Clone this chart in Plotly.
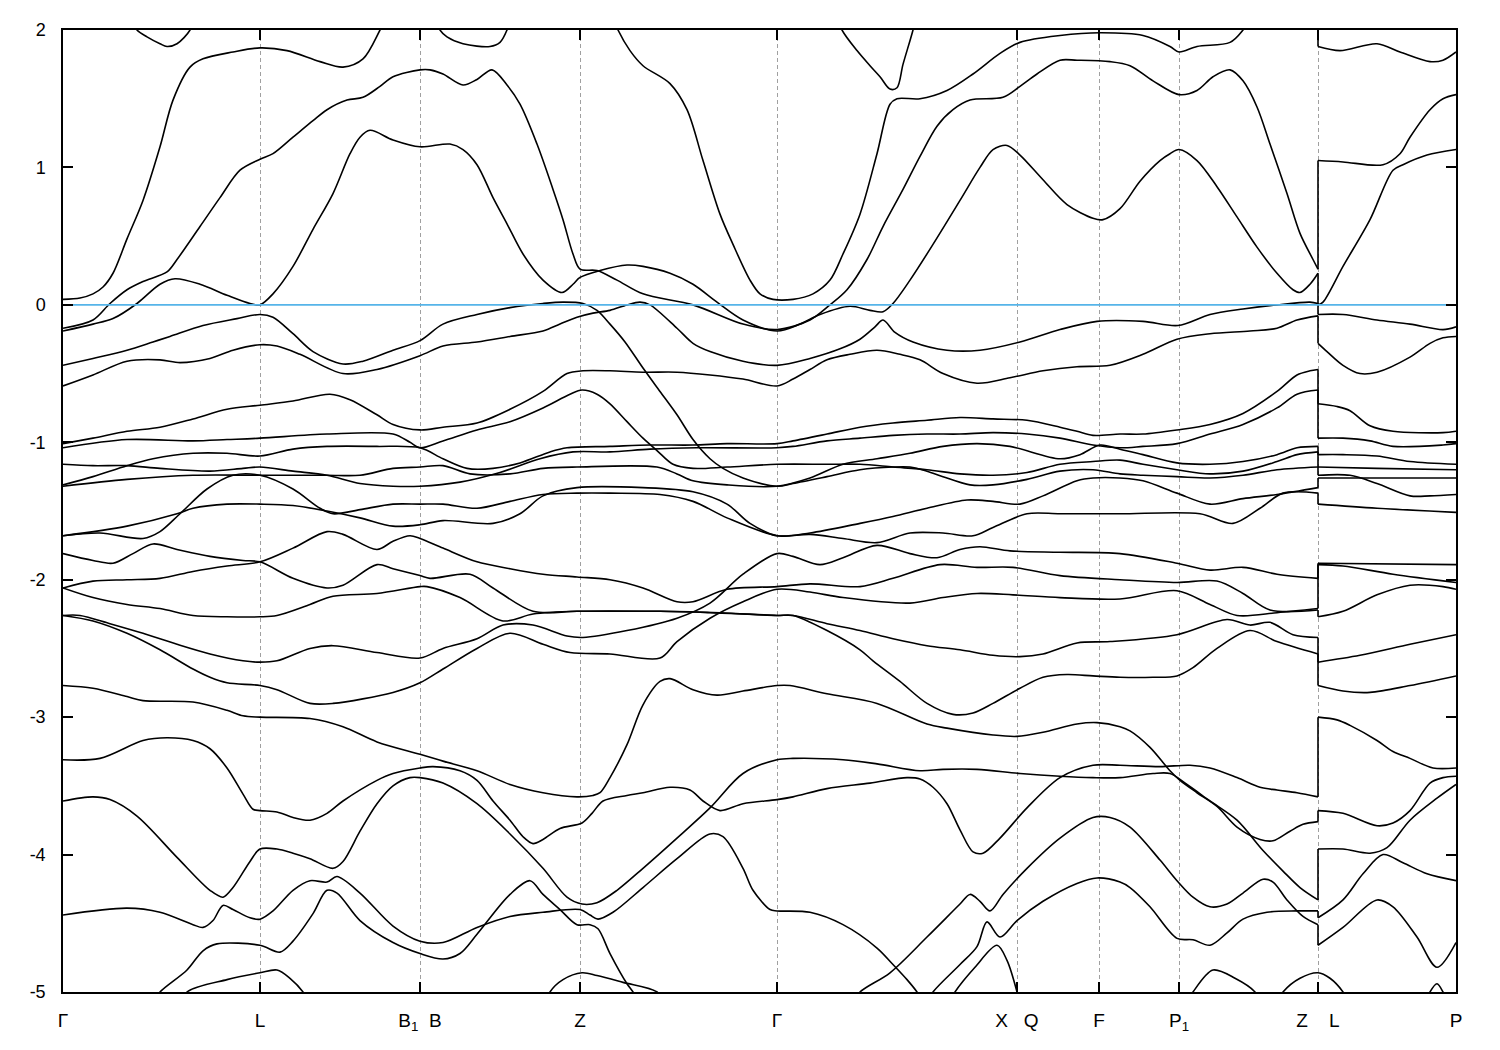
import plotly.graph_objects as go

# High-symmetry points along the k-path (path coordinate) and their labels
K_TICKS = [0, 197, 357, 517, 714, 954, 1036, 1116, 1255, 1393]
K_LABELS = ["Γ", "L", "B<sub>1</sub>\u00a0\u00a0B", "Z", "Γ", "X\u00a0\u00a0\u00a0Q", "F",
            "P<sub>1</sub>", "Z\u00a0\u00a0\u00a0\u00a0L", "P"]
E_TICKS = [2, 1, 0, -1, -2, -3, -4, -5]
E_LABELS = ["2", "1", "0", "-1", "-2", "-3", "-4", "-5"]
K_MAX = 1393
E_MIN, E_MAX = -5, 2
FERMI = 0.0

# Bands: (k, E) pairs; a repeated k marks the Z|L discontinuity
BAND_A = [(68, 2.1), (74, 2.0), (84, 1.95), (97, 1.9), (104, 1.88), (114, 1.9), (127, 2.0), (131, 2.1)]
BAND_A2 = [(372, 2.1), (377, 2.0), (384, 1.95), (400, 1.9), (427, 1.88), (437, 1.91), (444, 2.0), (448, 2.1)]
BAND_V = [(774, 2.1), (779, 2.0), (794, 1.85), (807, 1.74), (817, 1.66), (827, 1.57), (834, 1.58),
          (840, 1.75), (850, 2.0), (853, 2.1)]
BAND_B = [(0, 0.04), (17, 0.05), (30, 0.08), (40, 0.13), (50, 0.23), (64, 0.48), (80, 0.76), (97, 1.15),
          (110, 1.49), (127, 1.73), (140, 1.79), (170, 1.84), (197, 1.87), (224, 1.85), (257, 1.77),
          (280, 1.73), (300, 1.79), (317, 2.0), (327, 2.15)]
BAND_G = [(547, 2.15), (555, 2.0), (567, 1.85), (580, 1.74), (607, 1.61), (624, 1.42), (640, 1.05),
          (657, 0.66), (670, 0.44), (687, 0.18), (697, 0.08), (710, 0.04), (730, 0.04), (750, 0.08),
          (767, 0.18), (780, 0.37), (797, 0.66), (814, 1.1), (827, 1.46), (834, 1.5), (857, 1.5),
          (884, 1.56), (910, 1.68), (937, 1.83), (957, 1.91), (997, 1.96), (1037, 1.98), (1080, 1.96),
          (1107, 1.88), (1116, 1.84), (1134, 1.88), (1167, 1.91), (1180, 2.0), (1197, 2.2), (1255, 2.3),
          (1255, 1.88), (1277, 1.85), (1314, 1.9), (1337, 1.84), (1367, 1.77), (1380, 1.78), (1393, 1.84)]
BAND_C = [(0, -0.17), (30, -0.11), (47, 0.01), (64, 0.11), (80, 0.17), (104, 0.24), (114, 0.33),
          (137, 0.57), (157, 0.78), (177, 0.98), (197, 1.06), (210, 1.1), (230, 1.22), (250, 1.34),
          (264, 1.42), (284, 1.49), (300, 1.51), (317, 1.59), (330, 1.66), (357, 1.71), (367, 1.71),
          (380, 1.68), (400, 1.6), (414, 1.64), (429, 1.71), (444, 1.6), (457, 1.46), (474, 1.17),
          (490, 0.84), (500, 0.62), (510, 0.37), (517, 0.26), (534, 0.25), (554, 0.18), (580, 0.08),
          (630, 0.0), (680, -0.14), (714, -0.18), (747, -0.11), (767, 0.0), (784, 0.11), (804, 0.33),
          (820, 0.57), (840, 0.84), (857, 1.08), (874, 1.3), (890, 1.42), (907, 1.49), (940, 1.51),
          (957, 1.59), (974, 1.68), (997, 1.78), (1014, 1.78), (1047, 1.77), (1067, 1.74), (1090, 1.63),
          (1116, 1.53), (1134, 1.56), (1150, 1.66), (1167, 1.71), (1180, 1.63), (1194, 1.44),
          (1207, 1.17), (1224, 0.81), (1237, 0.52), (1250, 0.33), (1255, 0.26),
          (1255, 1.05), (1280, 1.04), (1320, 1.02), (1337, 1.1), (1347, 1.22), (1367, 1.42),
          (1380, 1.5), (1393, 1.53)]
BAND_D = [(0, -0.19), (30, -0.14), (50, -0.1), (74, 0.01), (97, 0.15), (112, 0.19), (137, 0.15),
          (164, 0.07), (187, 0.01), (197, 0.0), (210, 0.08), (230, 0.28), (250, 0.55), (270, 0.81),
          (287, 1.1), (297, 1.22), (307, 1.27), (330, 1.2), (357, 1.15), (387, 1.17), (400, 1.13),
          (414, 1.02), (430, 0.78), (444, 0.59), (460, 0.37), (480, 0.18), (499, 0.09), (510, 0.15),
          (517, 0.2), (537, 0.25), (564, 0.29), (580, 0.28), (607, 0.23), (630, 0.15), (654, 0.02),
          (680, -0.11), (714, -0.19), (737, -0.14), (757, -0.07), (787, -0.01), (807, -0.04),
          (820, -0.05), (830, 0.01), (847, 0.18), (870, 0.44), (897, 0.76), (917, 1.0), (930, 1.13),
          (944, 1.16), (957, 1.09), (980, 0.91), (1004, 0.73), (1030, 0.63), (1040, 0.62), (1057, 0.7),
          (1077, 0.9), (1097, 1.05), (1107, 1.1), (1116, 1.13), (1134, 1.05), (1154, 0.86),
          (1174, 0.64), (1194, 0.42), (1214, 0.23), (1230, 0.11), (1237, 0.09), (1247, 0.15),
          (1255, 0.23),
          (1255, 0.0), (1260, 0.02), (1280, 0.28), (1307, 0.62), (1330, 0.98), (1340, 1.02),
          (1364, 1.09), (1393, 1.13)]
BAND_M1 = [(0, -0.44), (30, -0.39), (64, -0.33), (90, -0.27), (107, -0.23), (140, -0.15), (174, -0.1),
           (197, -0.07), (210, -0.09), (230, -0.21), (250, -0.34), (280, -0.43), (300, -0.41),
           (330, -0.33), (357, -0.26), (380, -0.14), (414, -0.07), (447, -0.02), (480, 0.01), (500, 0.02),
           (520, 0.01), (534, -0.04), (547, -0.14), (562, -0.27), (580, -0.46), (597, -0.63), (614, -0.8),
           (630, -0.98), (647, -1.12), (660, -1.19), (680, -1.26), (714, -1.32), (730, -1.3),
           (764, -1.25), (797, -1.2), (830, -1.18), (847, -1.18), (864, -1.21), (880, -1.25),
           (907, -1.31), (930, -1.31), (964, -1.27), (997, -1.21), (1030, -1.2), (1057, -1.23),
           (1080, -1.24), (1114, -1.25), (1147, -1.26), (1180, -1.24), (1214, -1.2), (1255, -1.18),
           (1255, -1.24), (1287, -1.24), (1314, -1.3), (1347, -1.39), (1367, -1.39), (1393, -1.38)]
BAND_M2 = [(0, -0.59), (30, -0.51), (64, -0.41), (97, -0.4), (117, -0.42), (147, -0.39), (170, -0.33),
           (197, -0.29), (214, -0.3), (237, -0.36), (280, -0.5), (314, -0.47), (357, -0.37), (380, -0.3),
           (414, -0.27), (447, -0.23), (480, -0.19), (497, -0.14), (514, -0.09), (530, -0.06),
           (547, -0.04), (564, 0.0), (577, 0.02), (587, 0.0), (614, -0.17), (630, -0.28), (647, -0.34),
           (680, -0.41), (714, -0.44), (747, -0.39), (777, -0.32), (797, -0.25), (812, -0.16),
           (820, -0.11), (832, -0.2), (850, -0.27), (884, -0.33), (917, -0.33), (957, -0.27),
           (997, -0.18), (1034, -0.12), (1080, -0.12), (1115, -0.15), (1147, -0.07), (1180, -0.03),
           (1214, 0.0), (1247, 0.02), (1255, 0.01),
           (1255, -0.07), (1280, -0.07), (1314, -0.11), (1347, -0.14), (1380, -0.18), (1393, -0.16)]
BAND_M3 = [(0, -1.01), (30, -0.97), (64, -0.92), (97, -0.89), (130, -0.83), (164, -0.76), (197, -0.73),
           (230, -0.7), (267, -0.65), (287, -0.69), (314, -0.8), (330, -0.87), (357, -0.91), (380, -0.89),
           (414, -0.86), (447, -0.76), (480, -0.63), (504, -0.5), (520, -0.48), (547, -0.48),
           (580, -0.49), (614, -0.49), (647, -0.51), (680, -0.54), (714, -0.59), (730, -0.54),
           (747, -0.47), (764, -0.4), (787, -0.36), (814, -0.33), (837, -0.36), (857, -0.4), (880, -0.5),
           (914, -0.57), (947, -0.53), (980, -0.48), (1014, -0.45), (1047, -0.44), (1080, -0.36),
           (1114, -0.25), (1147, -0.21), (1187, -0.19), (1214, -0.17), (1234, -0.11), (1255, -0.08),
           (1255, -0.28), (1264, -0.34), (1280, -0.44), (1297, -0.5), (1314, -0.49), (1347, -0.38),
           (1367, -0.28), (1380, -0.24), (1393, -0.23)]
BAND_N1 = [(0, -1.04), (64, -0.98), (130, -0.99), (164, -0.98), (197, -0.97), (264, -0.94), (330, -0.94),
           (347, -1.0), (357, -1.04), (380, -0.99), (414, -0.91), (447, -0.85), (480, -0.75), (507, -0.65),
           (519, -0.62), (534, -0.65), (547, -0.72), (564, -0.85), (580, -0.97), (594, -1.06),
           (610, -1.16), (630, -1.19), (664, -1.18), (714, -1.16), (764, -1.16), (797, -1.16),
           (830, -1.18), (864, -1.2), (897, -1.23), (930, -1.24), (964, -1.22), (997, -1.16),
           (1030, -1.14), (1057, -1.13), (1080, -1.16), (1114, -1.2), (1147, -1.23), (1180, -1.21),
           (1214, -1.14), (1234, -1.09), (1255, -1.07),
           (1255, -1.18), (1314, -1.19), (1393, -1.2)]
BAND_N2 = [(0, -1.16), (30, -1.17), (64, -1.17), (97, -1.19), (147, -1.21), (180, -1.19), (197, -1.18),
           (230, -1.21), (264, -1.24), (297, -1.3), (330, -1.32), (357, -1.32), (397, -1.29), (437, -1.22),
           (477, -1.12), (510, -1.07), (547, -1.07), (587, -1.05), (634, -1.04), (714, -1.04),
           (730, -1.03), (764, -0.99), (797, -0.97), (830, -0.95), (864, -0.94), (897, -0.94),
           (930, -0.93), (964, -0.94), (997, -0.97), (1030, -1.02), (1057, -1.04), (1080, -1.03),
           (1114, -1.01), (1147, -0.94), (1180, -0.87), (1214, -0.75), (1234, -0.65), (1255, -0.62),
           (1255, -0.97), (1280, -0.97), (1307, -0.99), (1330, -1.03), (1380, -1.02), (1393, -1.01)]
BAND_N3 = [(0, -1.31), (30, -1.25), (64, -1.17), (90, -1.12), (130, -1.08), (164, -1.08), (197, -1.1),
           (230, -1.05), (264, -1.03), (314, -1.03), (357, -1.04), (380, -1.12), (404, -1.19),
           (430, -1.19), (457, -1.15), (487, -1.07), (504, -1.04), (547, -1.03), (587, -1.02),
           (630, -1.02), (664, -1.01), (714, -1.01), (730, -0.99), (764, -0.94), (797, -0.89),
           (830, -0.86), (864, -0.84), (897, -0.82), (930, -0.83), (964, -0.84), (997, -0.89),
           (1014, -0.92), (1030, -0.95), (1057, -0.94), (1080, -0.94), (1114, -0.91), (1147, -0.87),
           (1180, -0.79), (1214, -0.63), (1234, -0.51), (1247, -0.48), (1255, -0.47),
           (1255, -0.72), (1274, -0.74), (1287, -0.77), (1307, -0.88), (1330, -0.92), (1380, -0.93),
           (1393, -0.92)]
BAND_N4 = [(0, -1.32), (64, -1.27), (130, -1.24), (197, -1.24), (264, -1.24), (297, -1.24), (330, -1.19),
           (357, -1.18), (380, -1.17), (407, -1.23), (447, -1.23), (480, -1.19), (514, -1.18),
           (594, -1.18), (614, -1.23), (630, -1.28), (664, -1.31), (714, -1.32), (747, -1.26),
           (780, -1.16), (814, -1.12), (847, -1.08), (880, -1.03), (914, -1.01), (947, -1.03),
           (997, -1.12), (1017, -1.09), (1037, -1.02), (1057, -1.05), (1080, -1.09), (1114, -1.15),
           (1147, -1.16), (1180, -1.14), (1214, -1.09), (1234, -1.04), (1255, -1.03),
           (1255, -1.09), (1280, -1.09), (1314, -1.1), (1347, -1.14), (1393, -1.16)]
BAND_N5 = [(0, -1.68), (37, -1.66), (80, -1.7), (97, -1.65), (117, -1.52), (144, -1.34), (170, -1.24),
           (197, -1.24), (230, -1.34), (257, -1.48), (270, -1.52), (297, -1.49), (330, -1.45),
           (357, -1.45), (380, -1.45), (414, -1.48), (447, -1.43), (480, -1.38), (514, -1.37),
           (547, -1.37), (597, -1.38), (630, -1.43), (664, -1.55), (714, -1.68), (747, -1.67),
           (780, -1.7), (814, -1.73), (847, -1.66), (880, -1.66), (910, -1.68), (930, -1.62),
           (964, -1.52), (997, -1.52), (1057, -1.52), (1137, -1.52), (1170, -1.59), (1197, -1.48),
           (1220, -1.37), (1255, -1.37),
           (1255, -1.45), (1314, -1.48), (1393, -1.51)]
BAND_N6 = [(0, -1.68), (64, -1.61), (114, -1.52), (130, -1.48), (164, -1.45), (197, -1.45), (230, -1.46),
           (264, -1.5), (297, -1.55), (330, -1.61), (357, -1.6), (380, -1.57), (430, -1.59), (457, -1.52),
           (480, -1.39), (514, -1.33), (580, -1.33), (630, -1.36), (664, -1.45), (687, -1.59),
           (714, -1.68), (747, -1.66), (797, -1.59), (830, -1.54), (864, -1.48), (904, -1.42),
           (930, -1.43), (957, -1.45), (980, -1.39), (1014, -1.28), (1030, -1.26), (1057, -1.26),
           (1080, -1.28), (1114, -1.37), (1147, -1.45), (1180, -1.41), (1214, -1.38), (1255, -1.33),
           (1255, -1.26), (1393, -1.26)]
BAND_N7 = [(0, -1.81), (30, -1.86), (50, -1.88), (70, -1.81), (90, -1.74), (114, -1.78), (147, -1.83),
           (180, -1.86), (197, -1.87), (230, -1.99), (264, -2.06), (280, -2.04), (314, -1.89),
           (330, -1.92), (357, -1.97), (367, -1.99), (407, -1.96), (430, -2.06), (470, -2.23),
           (514, -2.23), (597, -2.23), (647, -2.24), (714, -2.26), (730, -2.26), (764, -2.32),
           (797, -2.37), (830, -2.43), (864, -2.48), (897, -2.51), (930, -2.55), (957, -2.56),
           (980, -2.54), (1014, -2.46), (1047, -2.45), (1114, -2.4), (1164, -2.29), (1187, -2.33),
           (1207, -2.31), (1230, -2.4), (1255, -2.42),
           (1255, -2.6), (1297, -2.55), (1347, -2.47), (1393, -2.4)]
BAND_N8 = [(0, -2.06), (30, -2.01), (64, -2.0), (97, -1.99), (130, -1.94), (164, -1.9), (197, -1.87),
           (230, -1.77), (264, -1.65), (280, -1.67), (314, -1.78), (330, -1.72), (347, -1.68),
           (357, -1.7), (380, -1.77), (414, -1.87), (447, -1.92), (480, -1.96), (514, -1.98),
           (547, -2.0), (580, -2.06), (614, -2.16), (630, -2.16), (664, -2.07), (714, -2.05),
           (747, -2.03), (797, -2.05), (830, -1.99), (877, -1.89), (914, -1.91), (950, -1.91),
           (997, -1.97), (1057, -2.0), (1114, -2.02), (1154, -2.01), (1180, -2.1), (1207, -2.22),
           (1255, -2.22),
           (1255, -2.27), (1280, -2.23), (1314, -2.11), (1347, -2.04), (1380, -2.05), (1393, -2.07)]
BAND_N9 = [(0, -2.06), (30, -2.13), (64, -2.18), (97, -2.21), (130, -2.26), (164, -2.27), (197, -2.27),
           (214, -2.26), (247, -2.18), (270, -2.12), (314, -2.1), (357, -2.05), (364, -2.05),
           (397, -2.13), (440, -2.3), (470, -2.25), (514, -2.23), (597, -2.23), (657, -2.24),
           (714, -2.26), (730, -2.26), (764, -2.37), (797, -2.51), (810, -2.59), (837, -2.74),
           (864, -2.9), (890, -2.98), (910, -2.97), (930, -2.9), (957, -2.79), (980, -2.71),
           (1004, -2.69), (1030, -2.7), (1057, -2.71), (1090, -2.71), (1114, -2.7), (1130, -2.64),
           (1154, -2.5), (1187, -2.37), (1214, -2.45), (1255, -2.54),
           (1255, -2.77), (1280, -2.81), (1307, -2.82), (1347, -2.77), (1393, -2.7)]
BAND_N10 = [(0, -2.26), (17, -2.26), (47, -2.32), (80, -2.39), (114, -2.47), (147, -2.54), (180, -2.59),
            (197, -2.6), (214, -2.59), (247, -2.5), (270, -2.48), (314, -2.53), (357, -2.57),
            (380, -2.5), (414, -2.43), (440, -2.33), (470, -2.33), (504, -2.41), (520, -2.42),
            (564, -2.37), (614, -2.28), (647, -2.17), (680, -1.96), (714, -1.81), (730, -1.83),
            (757, -1.89), (780, -1.84), (814, -1.75), (847, -1.81), (874, -1.84), (897, -1.78),
            (917, -1.76), (947, -1.79), (997, -1.8), (1057, -1.81), (1114, -1.88), (1147, -1.93),
            (1180, -1.91), (1214, -1.96), (1255, -1.99),
            (1255, -1.88), (1393, -1.89)]
BAND_N11 = [(0, -2.26), (30, -2.3), (64, -2.39), (97, -2.51), (130, -2.65), (147, -2.71), (164, -2.75),
            (197, -2.77), (214, -2.8), (247, -2.9), (270, -2.9), (330, -2.82), (357, -2.75),
            (380, -2.65), (414, -2.5), (447, -2.39), (480, -2.47), (507, -2.53), (547, -2.54),
            (597, -2.57), (614, -2.45), (647, -2.28), (680, -2.16), (714, -2.07), (747, -2.09),
            (780, -2.13), (847, -2.17), (880, -2.13), (914, -2.1), (950, -2.11), (997, -2.13),
            (1057, -2.14), (1114, -2.08), (1147, -2.18), (1174, -2.26), (1214, -2.24), (1255, -2.21),
            (1255, -1.89), (1280, -1.9), (1330, -1.96), (1393, -2.02)]
BAND_N12 = [(0, -2.77), (30, -2.79), (64, -2.85), (80, -2.88), (130, -2.89), (164, -2.95), (180, -2.99),
            (197, -3.0), (247, -3.01), (280, -3.07), (314, -3.18), (357, -3.27), (380, -3.32),
            (414, -3.39), (447, -3.49), (480, -3.55), (514, -3.58), (530, -3.57), (537, -3.55),
            (547, -3.44), (564, -3.2), (580, -2.91), (597, -2.74), (607, -2.72), (630, -2.8),
            (654, -2.84), (680, -2.81), (714, -2.77), (727, -2.77), (764, -2.83), (814, -2.9),
            (864, -3.05), (884, -3.08), (930, -3.13), (954, -3.14), (980, -3.11), (1014, -3.05),
            (1034, -3.04), (1057, -3.07), (1067, -3.1), (1087, -3.22), (1107, -3.39), (1117, -3.46),
            (1134, -3.55), (1154, -3.65), (1174, -3.8), (1197, -3.89), (1210, -3.9), (1227, -3.83),
            (1240, -3.78), (1255, -3.76),
            (1255, -3.68), (1280, -3.7), (1314, -3.79), (1330, -3.77), (1347, -3.68), (1367, -3.48),
            (1380, -3.44), (1393, -3.43)]
BAND_N13 = [(0, -3.31), (37, -3.3), (80, -3.17), (104, -3.15), (130, -3.17), (147, -3.23), (164, -3.37),
            (180, -3.56), (190, -3.67), (197, -3.68), (214, -3.69), (230, -3.73), (247, -3.75),
            (264, -3.7), (280, -3.61), (314, -3.46), (330, -3.41), (357, -3.37), (370, -3.36),
            (397, -3.39), (414, -3.46), (430, -3.61), (447, -3.75), (460, -3.87), (470, -3.92),
            (480, -3.89), (497, -3.81), (519, -3.77), (529, -3.7), (540, -3.61), (564, -3.57),
            (580, -3.55), (607, -3.51), (627, -3.53), (640, -3.61), (657, -3.68), (680, -3.63),
            (714, -3.6), (730, -3.58), (764, -3.52), (807, -3.48), (844, -3.44), (857, -3.45),
            (870, -3.51), (884, -3.63), (897, -3.82), (910, -3.98), (920, -3.99), (937, -3.88),
            (964, -3.66), (997, -3.44), (1030, -3.35), (1057, -3.35), (1097, -3.36), (1127, -3.35),
            (1147, -3.37), (1174, -3.44), (1197, -3.51), (1214, -3.53), (1234, -3.55), (1255, -3.58),
            (1255, -3.0), (1274, -3.02), (1287, -3.06), (1314, -3.17), (1330, -3.25), (1347, -3.3),
            (1370, -3.37), (1393, -3.37)]
BAND_N14 = [(0, -3.61), (30, -3.58), (47, -3.6), (74, -3.72), (114, -4.02), (147, -4.26), (160, -4.31),
            (170, -4.24), (187, -4.05), (197, -3.96), (214, -3.96), (230, -3.99), (247, -4.03),
            (270, -4.1), (280, -4.05), (297, -3.83), (314, -3.63), (330, -3.5), (347, -3.44),
            (357, -3.44), (380, -3.48), (414, -3.63), (447, -3.85), (480, -4.1), (504, -4.31),
            (519, -4.36), (534, -4.35), (554, -4.26), (580, -4.1), (614, -3.88), (647, -3.66),
            (680, -3.41), (714, -3.31), (730, -3.3), (780, -3.31), (814, -3.34), (857, -3.39),
            (880, -3.38), (914, -3.38), (957, -3.41), (997, -3.43), (1030, -3.44), (1057, -3.44),
            (1090, -3.41), (1107, -3.41), (1124, -3.49), (1147, -3.61), (1174, -3.75), (1200, -3.97),
            (1220, -4.12), (1237, -4.24), (1255, -4.33),
            (1255, -3.96), (1280, -3.96), (1307, -3.99), (1324, -3.95), (1347, -3.75), (1374, -3.59),
            (1393, -3.49)]
BAND_N15 = [(0, -4.44), (64, -4.39), (97, -4.42), (130, -4.51), (140, -4.53), (150, -4.48), (160, -4.37),
            (170, -4.4), (187, -4.46), (197, -4.47), (210, -4.41), (230, -4.26), (247, -4.19),
            (264, -4.2), (274, -4.16), (297, -4.28), (330, -4.52), (357, -4.63), (380, -4.64),
            (414, -4.53), (447, -4.45), (480, -4.42), (517, -4.4), (527, -4.44), (535, -4.47),
            (550, -4.42), (580, -4.24), (614, -4.03), (647, -3.85), (660, -3.87), (680, -4.1),
            (690, -4.26), (707, -4.4), (714, -4.41), (747, -4.42), (780, -4.51), (814, -4.68),
            (830, -4.8), (844, -4.91), (854, -5.0), (862, -5.1)]
BAND_N16 = [(87, -5.1), (97, -5.0), (124, -4.84), (140, -4.7), (154, -4.65), (197, -4.66), (217, -4.71),
            (230, -4.63), (250, -4.43), (264, -4.26), (274, -4.28), (297, -4.48), (330, -4.64),
            (357, -4.72), (380, -4.76), (397, -4.72), (414, -4.58), (447, -4.29), (467, -4.19),
            (480, -4.29), (497, -4.4), (514, -4.51), (527, -4.51), (535, -4.54), (547, -4.72),
            (564, -4.94), (570, -5.0), (577, -5.1)]
BAND_N17 = [(117, -5.1), (124, -5.0), (164, -4.91), (197, -4.86), (214, -4.84), (227, -4.9), (240, -5.0),
            (247, -5.1)]
BAND_N18 = [(482, -5.1), (487, -5.0), (500, -4.91), (519, -4.86), (534, -4.88), (560, -4.93), (594, -5.0),
            (602, -5.1)]
BAND_R1 = [(787, -5.1), (797, -5.0), (827, -4.86), (864, -4.6), (897, -4.36), (907, -4.29), (917, -4.34),
           (927, -4.41), (940, -4.29), (964, -4.1), (997, -3.88), (1030, -3.73), (1047, -3.73),
           (1067, -3.8), (1097, -4.04), (1114, -4.19), (1130, -4.31), (1147, -4.38), (1164, -4.36),
           (1180, -4.28), (1200, -4.18), (1210, -4.2), (1224, -4.33), (1240, -4.45), (1255, -4.51),
           (1255, -4.66), (1280, -4.53), (1314, -4.33), (1330, -4.38), (1354, -4.6), (1374, -4.82),
           (1393, -4.64)]
BAND_R2 = [(862, -5.1), (870, -5.0), (897, -4.8), (914, -4.67), (924, -4.49), (937, -4.6), (954, -4.48),
           (980, -4.34), (1014, -4.21), (1034, -4.17), (1057, -4.2), (1067, -4.24), (1087, -4.38),
           (1114, -4.61), (1130, -4.62), (1147, -4.66), (1164, -4.57), (1180, -4.47), (1204, -4.42),
           (1234, -4.41), (1255, -4.41),
           (1255, -4.46), (1280, -4.33), (1300, -4.14), (1320, -4.0), (1340, -4.06), (1364, -4.14),
           (1393, -4.19)]
BAND_R3 = [(885, -5.1), (892, -5.0), (912, -4.82), (934, -4.66), (944, -4.77), (954, -5.0), (957, -5.1)]
BAND_B1 = [(1122, -5.1), (1130, -5.0), (1150, -4.84), (1172, -4.9), (1192, -5.0), (1199, -5.1)]
BAND_B2 = [(1212, -5.1), (1220, -5.0), (1237, -4.9), (1255, -4.86), (1267, -4.9), (1280, -5.0), (1287, -5.1)]
BAND_B3 = [(1362, -5.1), (1367, -5.0), (1374, -4.94), (1380, -5.0), (1385, -5.1)]

BANDS = [BAND_A, BAND_A2, BAND_V, BAND_B, BAND_G, BAND_C, BAND_D, BAND_M1, BAND_M2, BAND_M3,
         BAND_N1, BAND_N2, BAND_N3, BAND_N4, BAND_N5, BAND_N6, BAND_N7, BAND_N8, BAND_N9, BAND_N10,
         BAND_N11, BAND_N12, BAND_N13, BAND_N14, BAND_N15, BAND_N16, BAND_N17, BAND_N18,
         BAND_R1, BAND_R2, BAND_R3, BAND_B1, BAND_B2, BAND_B3]

BAND_COLOR = "black"
FERMI_COLOR = "#56b4e9"
FONT = "Liberation Sans, Arial, Helvetica, sans-serif"

fig = go.Figure()


def split_band(band):
    segments, jumps = [[band[0]]], []
    for prev, cur in zip(band, band[1:]):
        if cur[0] == prev[0]:
            jumps.append((prev, cur))
            segments.append([cur])
        else:
            segments[-1].append(cur)
    return segments, jumps


for band in BANDS:
    segments, jumps = split_band(band)
    for seg in segments:
        fig.add_trace(go.Scatter(
            x=[p[0] for p in seg], y=[p[1] for p in seg], mode="lines",
            line=dict(color=BAND_COLOR, width=1.6, shape="spline", smoothing=0.9),
            hoverinfo="skip", showlegend=False))
    for a, b in jumps:
        fig.add_trace(go.Scatter(
            x=[a[0], b[0]], y=[a[1], b[1]], mode="lines",
            line=dict(color=BAND_COLOR, width=1.6), hoverinfo="skip", showlegend=False))

fig.add_trace(go.Scatter(x=[0, K_MAX], y=[FERMI, FERMI], mode="lines",
                         line=dict(color=FERMI_COLOR, width=1.6),
                         hoverinfo="skip", showlegend=False))

# The page body adds an 8 px offset, so the margins are reduced accordingly
fig.update_layout(
    width=1500, height=1050,
    margin=dict(l=55, r=52, t=20, b=66),
    paper_bgcolor="white", plot_bgcolor="white",
    showlegend=False,
    xaxis=dict(range=[0, K_MAX], tickmode="array", tickvals=K_TICKS, ticktext=K_LABELS,
               showgrid=True, gridcolor="#a0a0a0", gridwidth=1, griddash="4px,3px",
               ticks="inside", ticklen=10, tickwidth=1.5, tickcolor="black",
               showline=True, linecolor="black", linewidth=1.5, mirror="ticks",
               zeroline=False, ticklabelstandoff=10,
               tickfont=dict(family=FONT, size=19, color="black")),
    yaxis=dict(range=[E_MIN, E_MAX], tickmode="array", tickvals=E_TICKS, ticktext=E_LABELS,
               showgrid=False, ticks="inside", ticklen=10, tickwidth=1.5, tickcolor="black",
               showline=True, linecolor="black", linewidth=1.5, mirror="ticks",
               zeroline=False, ticklabelstandoff=12,
               tickfont=dict(family=FONT, size=18, color="black")),
)

fig.write_html("out.html")
